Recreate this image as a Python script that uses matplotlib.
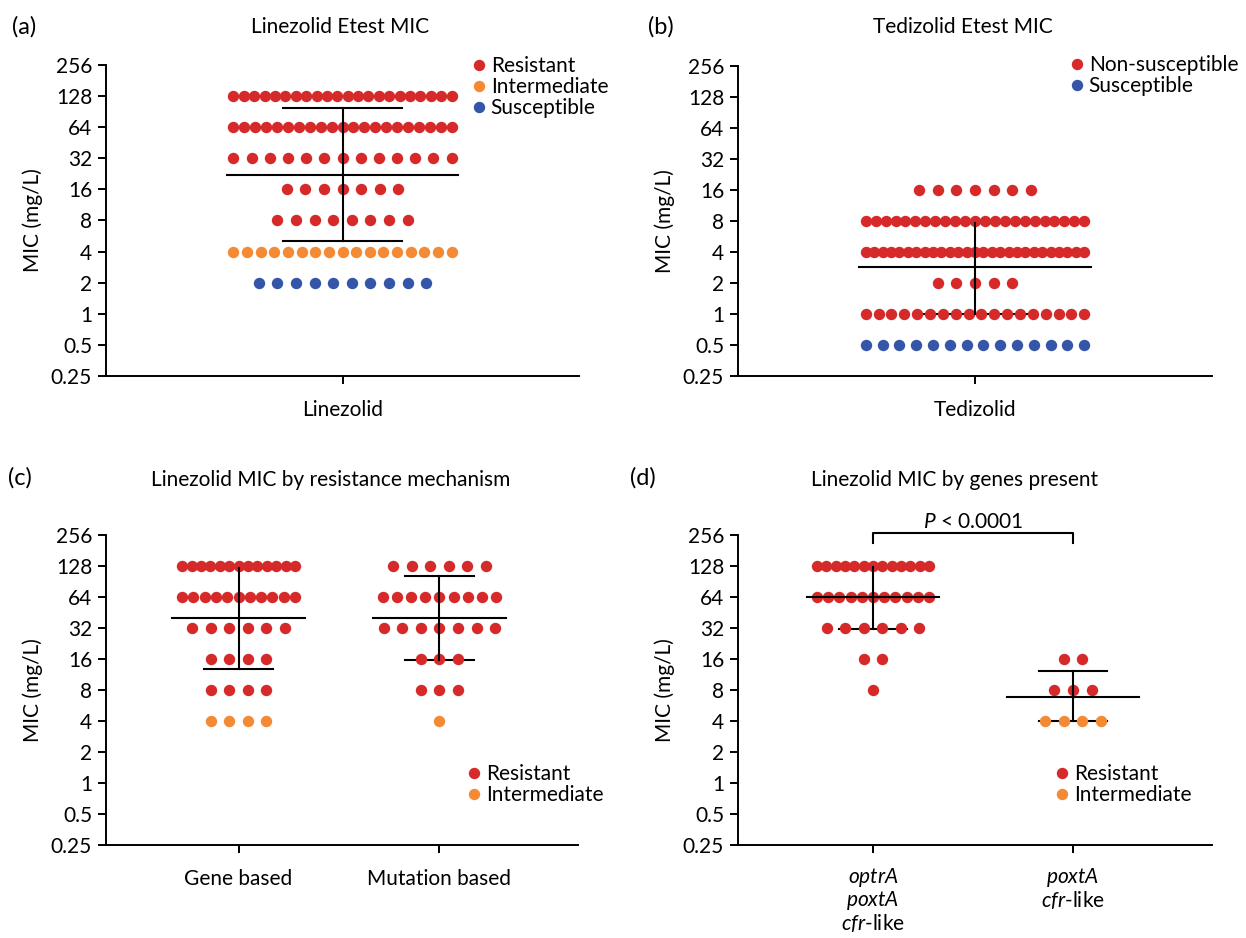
import numpy as np
import matplotlib
matplotlib.use("Agg")
from matplotlib import pyplot as plt
from matplotlib.lines import Line2D

plt.rcParams['font.family'] = ['Lato', 'DejaVu Sans']
plt.rcParams['mathtext.fontset'] = 'custom'
plt.rcParams['mathtext.rm'] = 'Lato'
plt.rcParams['mathtext.it'] = 'Lato:italic'
FS = 15
plt.rcParams['font.size'] = FS

RED = '#d62a2a'
ORANGE = '#f48a33'
BLUE = '#3556a8'
colors = {'R': RED, 'I': ORANGE, 'S': BLUE, 'NS': RED}

# y-axis ticks
mic_ticks = [0.25, 0.5, 1, 2, 4, 8, 16, 32, 64, 128, 256]
mic_tick_labels = ['0.25', '0.5', '1', '2', '4', '8', '16', '32', '64', '128', '256']

# (a) linezolid Etest MIC
a_mic = [128, 64, 32, 16, 8, 4, 2]
a_count = [22, 21, 13, 7, 8, 17, 10]
a_cat = ['R', 'R', 'R', 'R', 'R', 'I', 'S']
a_stats = (21.9, 5.1, 97.6)   # centre line, lower, upper

# (b) tedizolid Etest MIC
b_mic = [16, 8, 4, 2, 1, 0.5]
b_count = [7, 23, 27, 5, 18, 14]
b_cat = ['NS', 'NS', 'NS', 'NS', 'NS', 'S']
b_stats = (2.86, 1.0, 7.7)

# (c) by resistance mechanism
c_labels = ['Gene based', 'Mutation based']
c_mic = [[128, 64, 32, 16, 8, 4], [128, 64, 32, 16, 8, 4]]
c_count = [[13, 11, 6, 4, 4, 4], [6, 9, 7, 3, 3, 1]]
c_cat = [['R', 'R', 'R', 'R', 'R', 'I'], ['R', 'R', 'R', 'R', 'R', 'I']]
c_stats = [(40, 12.8, 122), (40, 15.7, 103)]

# (d) by genes present
d_labels = ['$\\mathit{optrA}$\n$\\mathit{poxtA}$\n$\\mathit{cfr}$-like',
            '$\\mathit{poxtA}$\n$\\mathit{cfr}$-like']
d_mic = [[128, 64, 32, 16, 8], [16, 8, 4]]
d_count = [[13, 11, 6, 2, 1], [2, 3, 4]]
d_cat = [['R', 'R', 'R', 'R', 'R'], ['R', 'R', 'I']]
d_stats = [(64, 31, 125), (6.8, 4.0, 12.2)]

W, H = 1246, 938
fig = plt.figure(figsize=(W / 100, H / 100), dpi=100)


def make_ax(left, right, top, bottom):
    ax = fig.add_axes([left / W, 1 - bottom / H, (right - left) / W, (bottom - top) / H])
    ax.set_yscale('log', base=2)
    ax.set_ylim(0.25, 256)
    ax.set_yticks(mic_ticks)
    ax.set_yticklabels(mic_tick_labels)
    ax.minorticks_off()
    for s in ['top', 'right']:
        ax.spines[s].set_visible(False)
    for s in ['left', 'bottom']:
        ax.spines[s].set_linewidth(1.4)
    ax.tick_params(axis='both', direction='out', length=6, width=1.4, labelsize=FS, pad=4)
    ax.tick_params(axis='x', pad=11)
    ax.set_ylabel('MIC (mg/L)', fontsize=FS, labelpad=6)
    return ax


def draw_group(ax, x0, mics, counts, cats, stats, max_step, max_span, mean_hw, cap_hw):
    for m, n, c in zip(mics, counts, cats):
        step = max_step if n < 2 else min(max_step, max_span / (n - 1))
        xs = x0 + (np.arange(n) - (n - 1) / 2) * step
        ax.plot(xs, [m] * n, 'o', ms=8.2, color=colors[c], mec='none', zorder=2, clip_on=False)
    mid, lo, hi = stats
    kw = dict(color='k', lw=1.5, clip_on=False)
    ax.plot([x0 - mean_hw, x0 + mean_hw], [mid, mid], zorder=3, **kw)
    ax.plot([x0, x0], [lo, hi], zorder=3, **kw)
    ax.plot([x0 - cap_hw, x0 + cap_hw], [lo, lo], zorder=1, **kw)
    ax.plot([x0 - cap_hw, x0 + cap_hw], [hi, hi], zorder=1, **kw)


def legend(ax, items, x, y):
    handles = [Line2D([], [], marker='o', ls='none', ms=8.2, color=colors[k], mec='none') for k, _ in items]
    ax.legend(handles, [t for _, t in items], loc='upper left', bbox_to_anchor=(x / W, 1 - y / H),
              bbox_transform=fig.transFigure, frameon=False, fontsize=FS, handlelength=0.6,
              handletextpad=0.25, labelspacing=0.05, borderpad=0, borderaxespad=0)


# panel a
ax_a = make_ax(106, 579, 65, 376)
ax_a.set_xlim(-1, 1)
ax_a.set_xticks([0])
ax_a.set_xticklabels(['Linezolid'])
draw_group(ax_a, 0, a_mic, a_count, a_cat, a_stats, 0.0787, 0.922, 0.49, 0.25)
legend(ax_a, [('R', 'Resistant'), ('I', 'Intermediate'), ('S', 'Susceptible')], 473, 56)

# panel b
ax_b = make_ax(738, 1212, 66, 376)
ax_b.set_xlim(-1, 1)
ax_b.set_xticks([0])
ax_b.set_xticklabels(['Tedizolid'])
draw_group(ax_b, 0, b_mic, b_count, b_cat, b_stats, 0.0787, 0.922, 0.49, 0.25)
legend(ax_b, [('NS', 'Non-susceptible'), ('S', 'Susceptible')], 1071, 55)

# panel c
ax_c = make_ax(106, 578, 535, 845)
ax_c.set_xlim(-0.66, 1.69)
ax_c.set_xticks([0, 1])
ax_c.set_xticklabels(c_labels)
for i in range(2):
    draw_group(ax_c, i, c_mic[i], c_count[i], c_cat[i], c_stats[i], 0.0926, 0.562, 0.33, 0.17)
legend(ax_c, [('R', 'Resistant'), ('I', 'Intermediate')], 468, 764)

# panel d
ax_d = make_ax(738, 1212, 535, 845)
ax_d.set_xlim(-0.675, 1.695)
ax_d.set_xticks([0, 1])
ax_d.set_xticklabels(d_labels, linespacing=1.0)
ax_d.tick_params(axis='x', pad=9)
for i in range(2):
    draw_group(ax_d, i, d_mic[i], d_count[i], d_cat[i], d_stats[i], 0.0926, 0.562, 0.33, 0.17)
legend(ax_d, [('R', 'Resistant'), ('I', 'Intermediate')], 1056, 764)

# significance bracket
ax_d.plot([0, 0, 1, 1], [214, 267, 267, 214], color='k', lw=1.5, clip_on=False)
ax_d.text(0.5, 345, '$\\mathit{P}$ < 0.0001', ha='center', va='center', fontsize=FS)

# titles and panel letters
fig.text(340 / W, 1 - 27 / H, 'Linezolid Etest MIC', ha='center', va='center', fontsize=FS)
fig.text(963 / W, 1 - 27 / H, 'Tedizolid Etest MIC', ha='center', va='center', fontsize=FS)
fig.text(331 / W, 1 - 480 / H, 'Linezolid MIC by resistance mechanism', ha='center', va='center', fontsize=FS)
fig.text(955 / W, 1 - 480 / H, 'Linezolid MIC by genes present', ha='center', va='center', fontsize=FS)
fig.text(12 / W, 1 - 27 / H, '(a)', ha='left', va='center', fontsize=17)
fig.text(648 / W, 1 - 27 / H, '(b)', ha='left', va='center', fontsize=17)
fig.text(8 / W, 1 - 478 / H, '(c)', ha='left', va='center', fontsize=17)
fig.text(630 / W, 1 - 478 / H, '(d)', ha='left', va='center', fontsize=17)

fig.savefig('out.png', dpi=100)
